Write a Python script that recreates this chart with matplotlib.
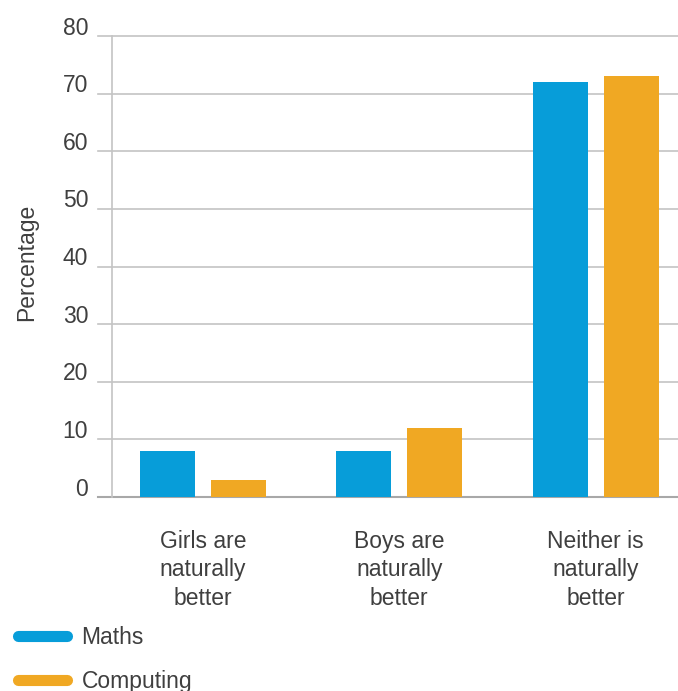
import matplotlib.pyplot as plt
import numpy as np
from matplotlib.lines import Line2D

categories = ["Girls are\nnaturally\nbetter", "Boys are\nnaturally\nbetter", "Neither is\nnaturally\nbetter"]
maths = [8, 8, 72]
computing = [3, 12, 73]
yticks = [0, 10, 20, 30, 40, 50, 60, 70, 80]

blue = "#079dd9"
orange = "#f0a823"
grey = "#c4c4c4"
txt = "#3f3f3f"

plt.rcParams['font.family'] = ['Liberation Sans', 'DejaVu Sans']
fs = 16.5

fig = plt.figure(figsize=(6.78, 6.91), dpi=100)
# axes in pixels: x 112..678, y 36..497 (from top)
ax = fig.add_axes([112/678, 1 - 497/691, 566/678, 461/691])

x = np.arange(len(categories))
w = 0.28
off = 0.181
ax.bar(x - off, maths, w, color=blue, label="Maths", zorder=3)
ax.bar(x + off, computing, w, color=orange, label="Computing", zorder=3)

ax.set_xlim(-0.4636, 2.42)
ax.set_ylim(0, 80)

for s in ['top', 'right', 'bottom']:
    ax.spines[s].set_visible(False)
ax.spines['left'].set_color(grey)
ax.spines['left'].set_linewidth(1.2)

# gridlines stick out to the left of the axis
for v in yticks:
    col = "#a8a8a8" if v == 0 else grey
    ax.plot([-0.0245, 1], [v, v], transform=ax.get_yaxis_transform(), color=col,
            lw=1.5 if v == 0 else 1.2, clip_on=False, zorder=2)
    ax.text(-0.042, v + 0.25, str(v), transform=ax.get_yaxis_transform(),
            ha='right', va='baseline', fontsize=fs, color=txt)

ax.set_yticks([])
ax.set_xticks([])

for xi, c in zip(x, categories):
    ax.text(xi, -5.8, c, ha='center', va='top', fontsize=fs, color=txt,
            linespacing=1.28)

fig.text(27/678, 1 - 262/691, "Percentage", rotation=90, ha='center', va='center',
         fontsize=fs, color=txt)

handles = [Line2D([], [], color=blue, lw=8, solid_capstyle='round'),
           Line2D([], [], color=orange, lw=8, solid_capstyle='round')]
fig.legend(handles, ["Maths", "Computing"], loc='upper left',
           bbox_to_anchor=(18/678, 1 - 626/691), frameon=False, fontsize=fs,
           handlelength=2.15, handletextpad=0.62, labelspacing=0.93,
           labelcolor=txt, borderpad=0, borderaxespad=0)

fig.savefig("out.png", dpi=100)
